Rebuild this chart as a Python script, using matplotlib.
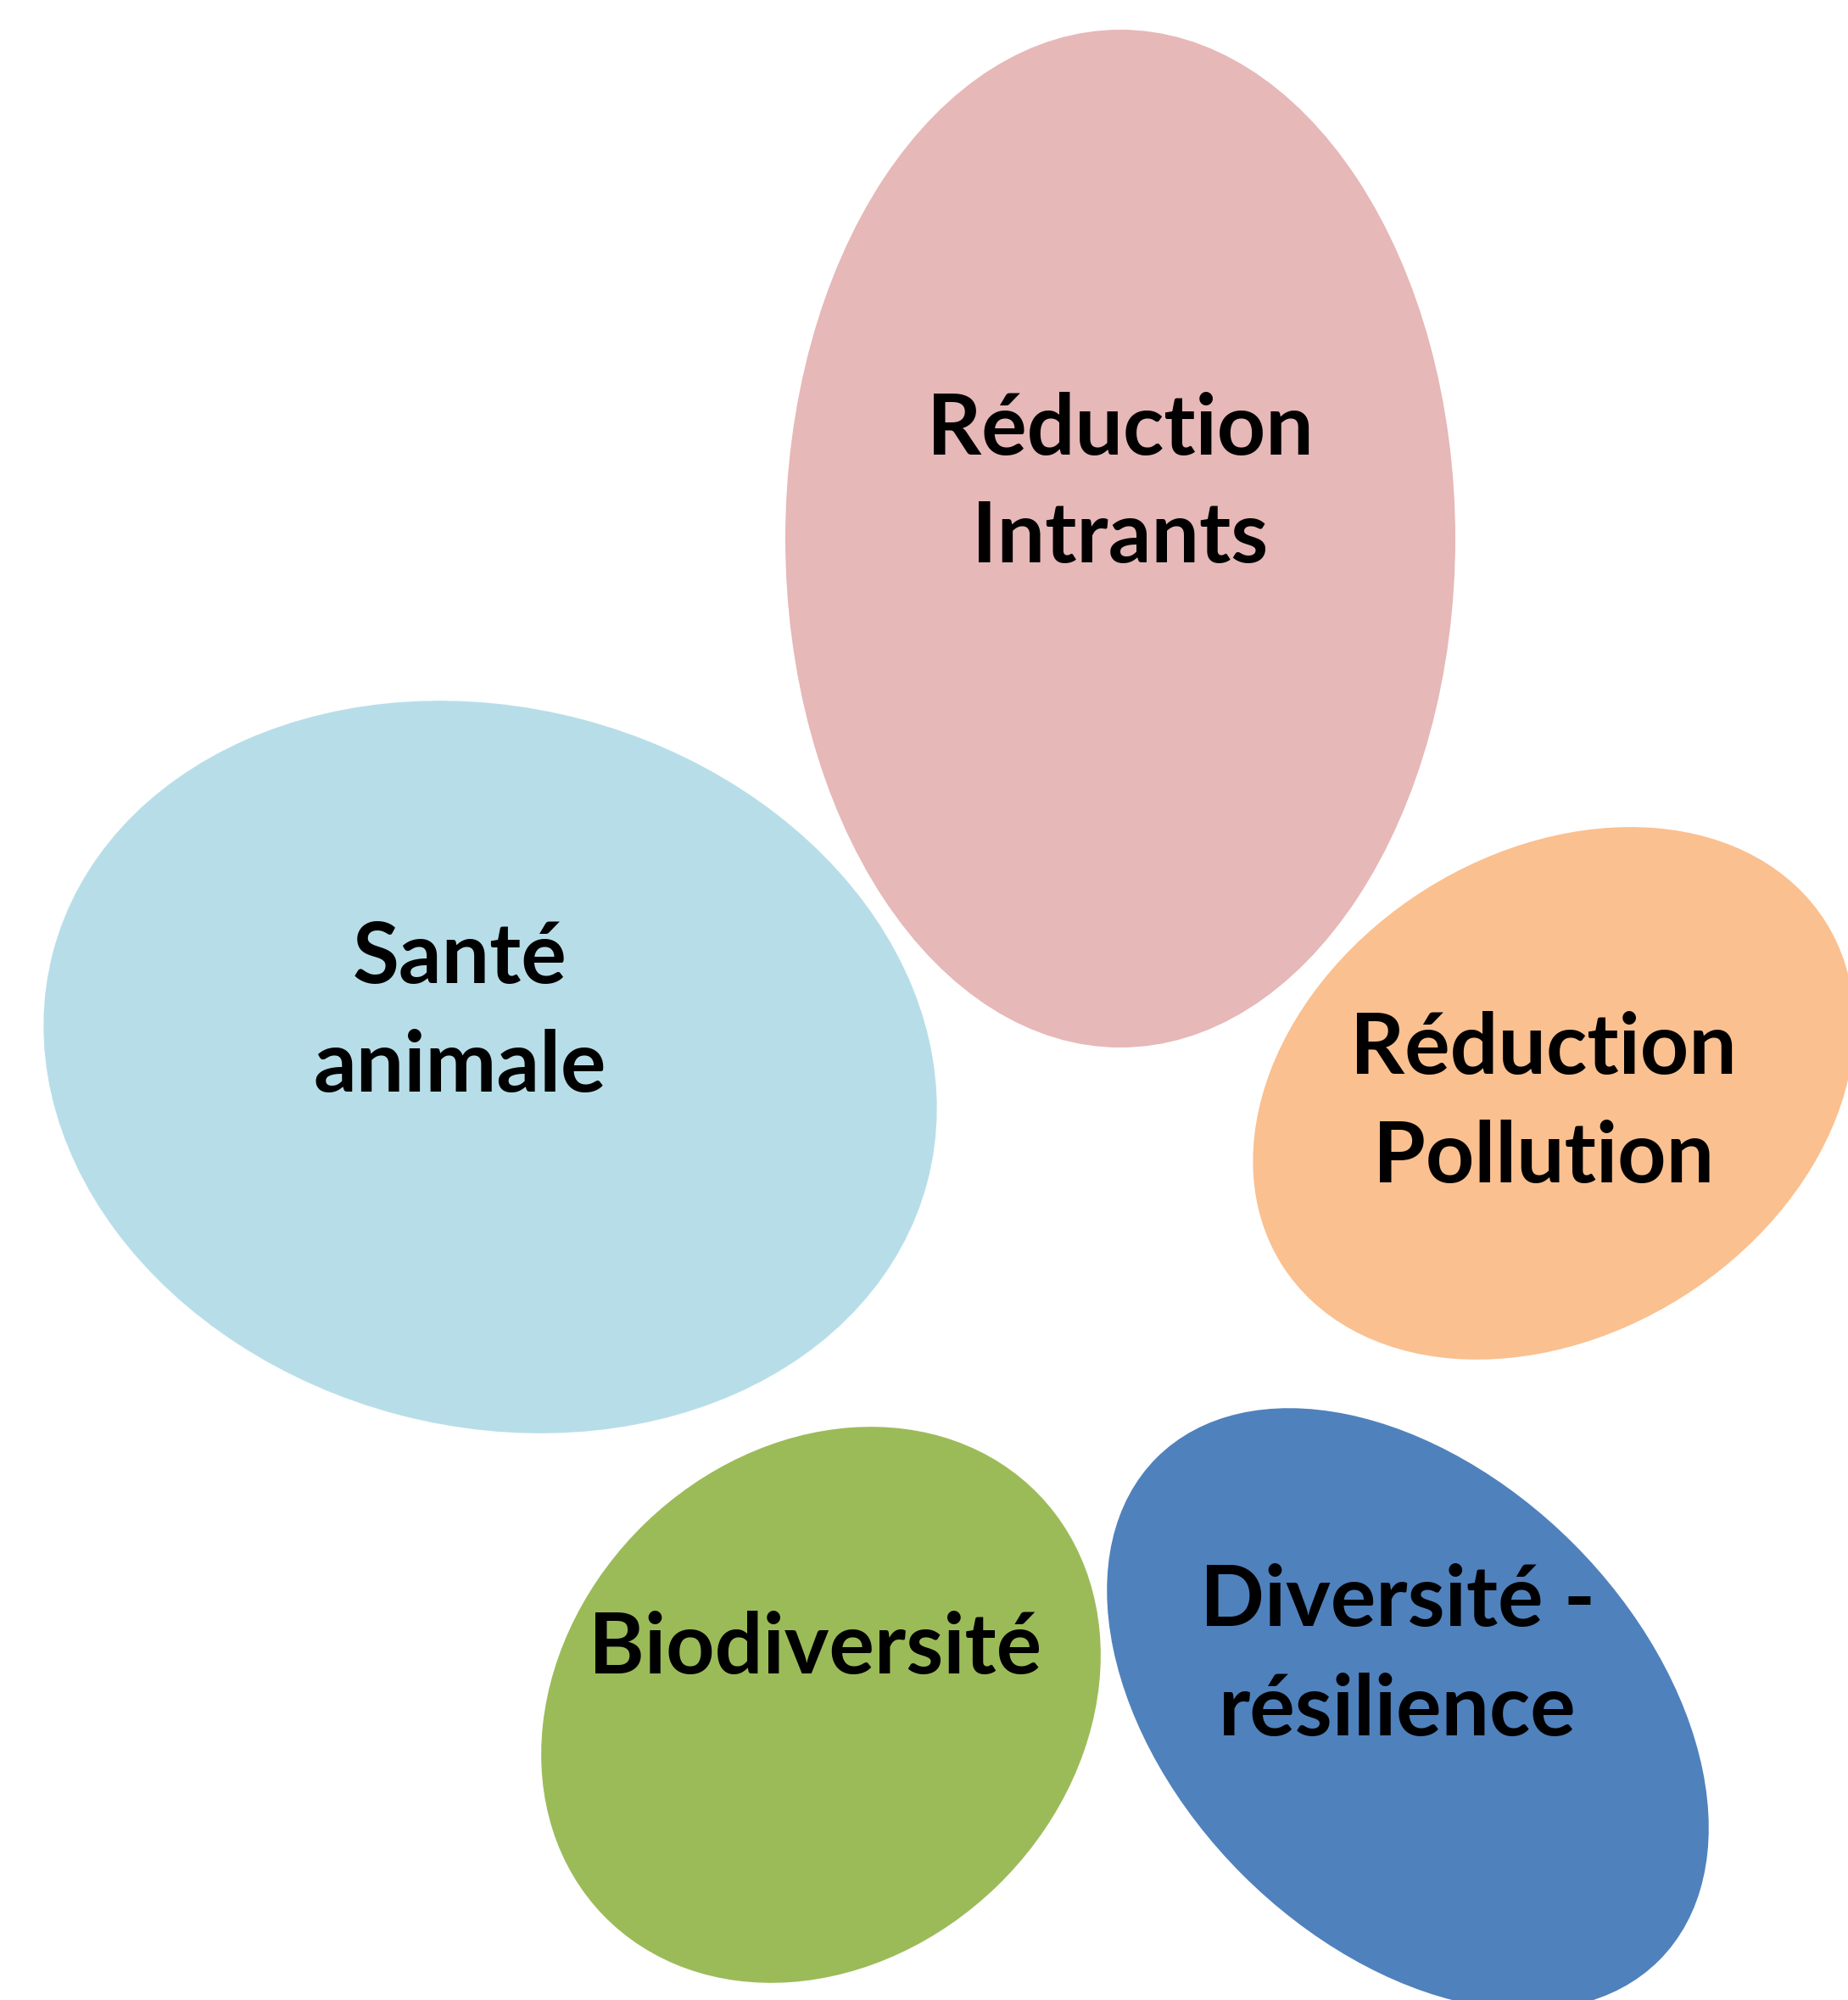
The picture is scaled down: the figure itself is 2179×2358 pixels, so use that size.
import matplotlib
matplotlib.use("Agg")
import matplotlib.pyplot as plt
from matplotlib.patches import Ellipse

W, H = 2179, 2358

# Bubble data (pixel space of the original picture, y downward)
labels = [["Réduction", "Intrants"],
          ["Santé", "animale"],
          ["Réduction", "Pollution"],
          ["Biodiversité"],
          ["Diversité -", "résilience"]]
centers_x = [1321, 578, 1832, 968, 1660]
centers_y = [635, 1258, 1289, 2010, 2015]
widths = [790, 1066, 758, 714, 838]     # full axis along 'angle'
heights = [1200, 848, 568, 596, 552]
angles = [0, -14.7, 32.2, 44, -45]      # visual counter-clockwise degrees
colors = ["#E6B8B7", "#B7DEE8", "#FAC090", "#9BBB59", "#4F81BD"]

# text placement: centre x and baseline of each line
text_x = [1321, 542, 1820, 961, 1648]
text_baselines = [[536, 663], [1159, 1287], [1266, 1394], [1973], [1917, 2046]]

fig = plt.figure(figsize=(W / 100, H / 100), dpi=100)
ax = fig.add_axes([0, 0, 1, 1])
ax.set_xlim(0, W)
ax.set_ylim(H, 0)
ax.set_aspect("equal")
ax.axis("off")

for i in range(len(labels)):
    e = Ellipse((centers_x[i], centers_y[i]), widths[i], heights[i],
                angle=-angles[i], facecolor=colors[i], edgecolor="none")
    ax.add_patch(e)
    for line, yb in zip(labels[i], text_baselines[i]):
        ax.text(text_x[i], yb, line, ha="center", va="baseline",
                fontsize=72, fontweight="bold", family=["Lato", "DejaVu Sans"],
                color="black")

fig.savefig("out.png", dpi=100)
